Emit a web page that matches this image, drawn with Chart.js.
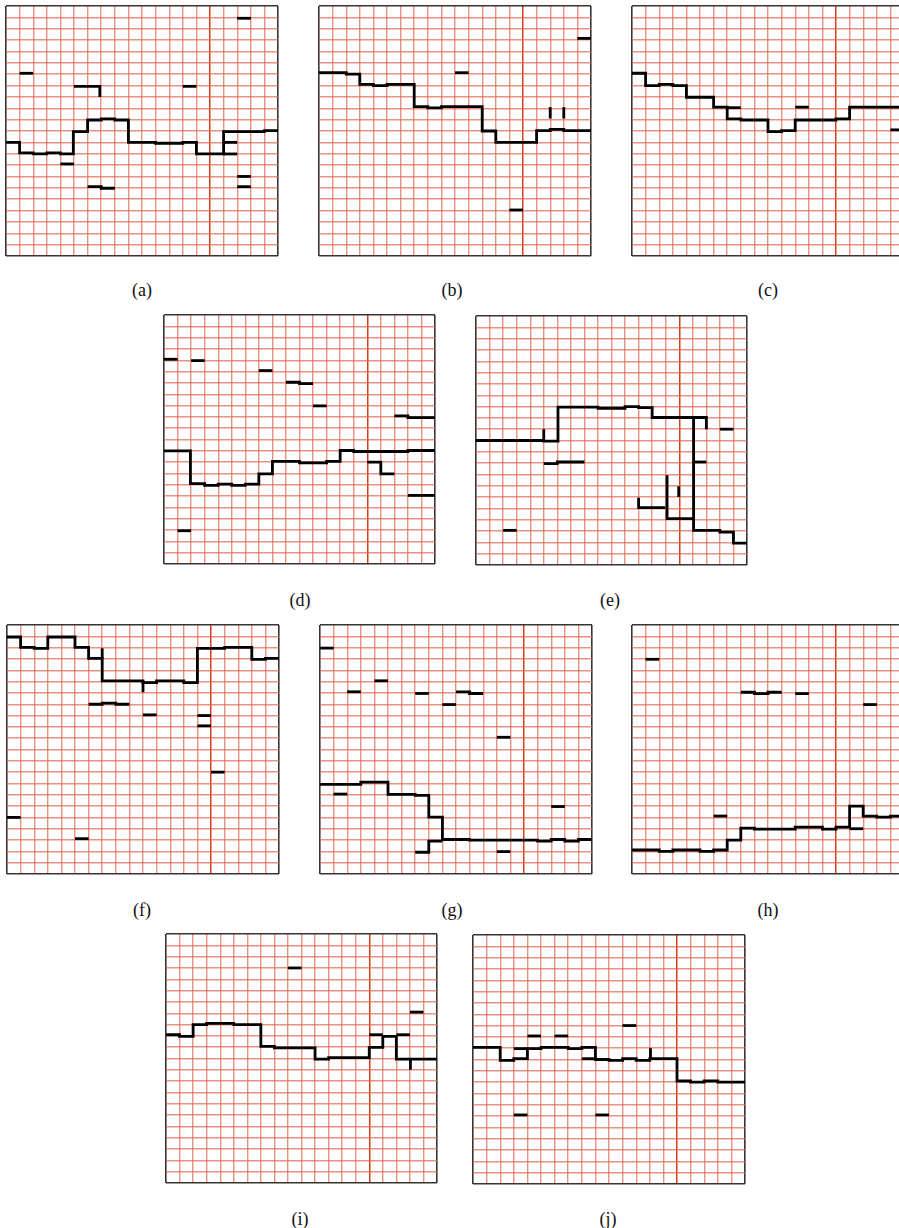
<!DOCTYPE html>
<html><head><meta charset="utf-8">
<script src="https://cdn.jsdelivr.net/npm/chart.js@4/dist/chart.umd.min.js"></script>
<style>
html,body{margin:0;padding:0;background:#fff;width:899px;height:1228px;overflow:hidden;position:relative}
.p{position:absolute}
.lab{position:absolute;font-family:"Liberation Serif","Times New Roman",serif;font-size:18px;color:#111;transform:translate(-50%,-50%);white-space:nowrap}
</style></head><body>
<script>
// Grid: 20 columns x 22 rows; x from left, y from top (row units). Each path is a stepped polyline [x, level].
const COLS = 20, ROWS = 22, MARK_COL = 15;

const aMain = [[0,12],[1,12.93],[2,13.02],[3,12.93],[4,13.02],[4.95,11.05],[6,10.03],[7,9.94],[8,10.03],[9,12],[11,12.08],[13,12],[14,13.02],[16,11.05],[19,10.97],[20,10.97]];
const aMarks = [[[16,12],[17,12]],[[16,13.02],[17,13.02]],[[17,1.08],[18,1.08]],[[1,5.92],[2,5.92]],[[5,7.07],[6.9,8.0]],[[13,7.07],[14,7.07]],[[4,13.9],[5,13.9]],[[6,15.9],[7,16.04],[8,16.04]],[[17,15],[18,15]],[[17,15.9],[18,15.9]]];

const bMain = [[0,5.87],[2,6.0],[3,6.9],[4,7.0],[5,6.9],[7,8.86],[8,8.97],[9,8.86],[12,11.0],[13,12.0],[16,10.97],[17,10.85],[18,10.97],[20,10.97]];
const bMarks = [[[17,8.9],[17,9.9]],[[18,8.9],[18,9.9]],[[10,5.87],[11,5.87]],[[19,2.85],[20,2.85]],[[14,17.95],[15,17.95]]];

const cMain = [[0,5.92],[1,7.0],[2,6.9],[3,7.0],[4,8.03],[6,8.9],[7,9.94],[8,10.03],[10,11.05],[11,10.97],[12,10.03],[15,9.94],[16,8.9],[20,8.9]];
const cMarks = [[[7,8.95],[8,8.95]],[[12,8.9],[13,8.9]],[[19,10.9],[20,10.9]]];

const dMain = [[0,12],[1.95,14.9],[3,15.05],[4,14.95],[5,15.05],[6,14.95],[7,14.03],[8,12.94],[10,13.06],[12,12.94],[13,11.97],[14,12.06],[18,11.97],[20,11.97]];
const dMarks = [[[15,13.0],[16,14.03],[17,14.03]],[[0,3.91],[1,3.91]],[[2,4.03],[3,4.03]],[[7,4.91],[8,4.91]],[[9,5.94],[10,6.06],[11,6.06]],[[11,8.03],[12,8.03]],[[17,8.91],[18,9.06],[20,9.06]],[[18,15.94],[20,15.94]],[[1,19.06],[2,19.06]]];

const eMain = [[0,11],[5,11.06],[6.05,8.05],[9,8.15],[11,8.0],[12,8.1],[13,8.97],[16.06,18.94],[18,19.09],[19,20.06],[20,20.06]];
const eMarks = [[[5,10],[5,11]],[[16.06,8.97],[17,10.0]],[[16.1,12.9],[17,12.9]],[[18,10],[19,10]],[[12,16.05],[12,16.93],[13.97,16.93]],[[14.1,14.07],[14.1,17.9],[16.06,17.9]],[[14.96,15.04],[14.96,15.99]],[[5,13.04],[6,12.9],[8,12.9]],[[2,18.94],[3,18.94]]];

const fMain = [[0,1.06],[1,1.97],[2,2.06],[3,1.06],[5,1.97],[6,2.94],[7,4.94],[10,5.09],[11,4.94],[13,5.09],[14,2.06],[16,1.97],[18,3.03],[19,2.94],[20,2.94]];
const fMarks = [[[7,2.06],[7,2.94]],[[10,4.94],[10,5.94]],[[6,7.0],[7,6.91],[8,7.0],[9,7.0]],[[10,7.94],[11,7.94]],[[14,8.0],[15,8.0]],[[14,8.91],[15,8.91]],[[15,13.0],[16,13.0]],[[0,17.0],[1,17.0]],[[5,18.88],[6,18.88]]];

const gMain = [[0,14.09],[3,13.88],[5,14.97],[7,15.06],[8,16.98],[9,18.95],[11,19.0],[16,19.1],[17,18.95],[18,19.1],[19,18.95],[20,18.95]];
const gMarks = [[[7,20.08],[8,19.1],[9,19.1]],[[0,2.04],[1,2.04]],[[4,4.93],[5,4.93]],[[2,5.9],[3,5.9]],[[7,6.05],[8,6.05]],[[9,7.03],[10,7.03]],[[10,5.9],[11,6.05],[12,6.05]],[[13,9.92],[14,9.92]],[[1,14.94],[2,14.94]],[[17,16.04],[18,16.04]],[[13,20.02],[14,20.02]]];

const hMain = [[0,19.88],[2,20.0],[3,19.88],[5,20.0],[6,19.88],[7,19.0],[8,17.94],[9,18.03],[12,17.85],[14,18.03],[15,17.85],[16,16.0],[17,16.88],[18,16.97],[19,16.88],[20,16.88]];
const hMarks = [[[16,18.0],[17,18.0]],[[1,3.03],[2,3.03]],[[8,5.94],[9,6.06],[10,5.94],[11,5.94]],[[12,6.06],[13,6.06]],[[17,7.03],[18,7.03]],[[6,16.88],[7,16.88]]];

const iMain = [[0,8.9],[1,9.04],[2,8.01],[3,7.89],[5,8.01],[7,9.93],[8,10.07],[11,11.05],[12,10.93],[15,10.01],[16,9.04],[17,11.05],[20,11.05]];
const iMarks = [[[15,8.9],[16,8.9]],[[17,8.9],[18,8.9]],[[18.04,11.05],[18.04,11.99]],[[9,3.0],[10,3.0]],[[18,6.9],[19,6.9]]];

const jMain = [[0,9.92],[2,11.07],[3,10.93],[4,10.04],[5,9.92],[7,10.04],[8,9.92],[9,11.0],[10,11.07],[11,10.93],[12,11.07],[13,10.93],[15,12.9],[16,13.0],[17,12.9],[18,13.0],[20,13.0]];
const jMarks = [[[3,10.04],[4,10.04]],[[8,10.93],[9,10.93]],[[13.05,10.0],[13.05,10.93]],[[4,8.92],[5,8.92]],[[6,8.92],[7,8.92]],[[11,8.0],[12,8.0]],[[3,15.9],[4,15.9]],[[9,15.9],[10,15.9]]];

const labels = ['(a)','(b)','(c)','(d)','(e)','(f)','(g)','(h)','(i)','(j)'];
const paths = [[aMain,...aMarks],[bMain,...bMarks],[cMain,...cMarks],[dMain,...dMarks],[eMain,...eMarks],[fMain,...fMarks],[gMain,...gMarks],[hMain,...hMarks],[iMain,...iMarks],[jMain,...jMarks]];

// layout (px): panel left, top, width, height, label center x, y
const layout = [
  [6,6,272,250,142,290],[319,6,272,250,452,290],[632,6,272,250,768,290],
  [164,315,271,249,300,600],[476,316,271,249,610,600],
  [7,625,272,249,142,910],[320,625,272,249,452,910],[632,625,272,249,768,910],
  [166,934,271,249,300,1219],[473,935,272,249,608,1219]
];

const PAD = 2;
function gridColor(max){
  return (ctx) => {
    const v = ctx.tick ? ctx.tick.value : null;
    if (v === 0 || v === max) return '#3a3333';
    if (max === COLS && v === MARK_COL) return '#d4401f';
    return 'rgba(222,104,82,0.72)';
  };
}
function gridWidth(max){
  return (ctx) => {
    const v = ctx.tick ? ctx.tick.value : null;
    if (v === 0 || v === max) return 1.6;
    if (max === COLS && v === MARK_COL) return 1.5;
    return 1.4;
  };
}

layout.forEach((L, i) => {
  const [left, top, w, h, lx, ly] = L;
  const wrap = document.createElement('div');
  wrap.className = 'p';
  wrap.style.left = (left - PAD) + 'px';
  wrap.style.top = (top - PAD) + 'px';
  wrap.style.width = (w + 2*PAD) + 'px';
  wrap.style.height = (h + 2*PAD) + 'px';
  const cv = document.createElement('canvas');
  cv.width = w + 2*PAD; cv.height = h + 2*PAD;
  cv.style.width = (w + 2*PAD) + 'px'; cv.style.height = (h + 2*PAD) + 'px';
  wrap.appendChild(cv);
  document.body.appendChild(wrap);

  new Chart(cv, {
    type: 'scatter',
    data: {
      datasets: paths[i].map(p => ({
        data: p.map(([x, y]) => ({x, y})),
        showLine: true,
        stepped: true,
        borderColor: '#000',
        borderWidth: 2.8,
        borderCapStyle: 'butt',
        borderJoinStyle: 'miter',
        pointRadius: 0,
        fill: false,
        clip: 0
      }))
    },
    options: {
      responsive: false,
      animation: false,
      devicePixelRatio: 1,
      layout: { padding: PAD },
      plugins: { legend: { display: false }, tooltip: { enabled: false } },
      scales: {
        x: { type: 'linear', min: 0, max: COLS,
             ticks: { display: false, stepSize: 1, autoSkip: false, maxTicksLimit: 100 },
             grid: { color: gridColor(COLS), lineWidth: gridWidth(COLS), drawTicks: false },
             border: { display: false } },
        y: { type: 'linear', min: 0, max: ROWS, reverse: true,
             ticks: { display: false, stepSize: 1, autoSkip: false, maxTicksLimit: 100 },
             grid: { color: gridColor(ROWS), lineWidth: gridWidth(ROWS), drawTicks: false },
             border: { display: false } }
      }
    }
  });

  const lab = document.createElement('div');
  lab.className = 'lab';
  lab.style.left = lx + 'px';
  lab.style.top = ly + 'px';
  lab.textContent = labels[i];
  document.body.appendChild(lab);
});
</script>
</body></html>
